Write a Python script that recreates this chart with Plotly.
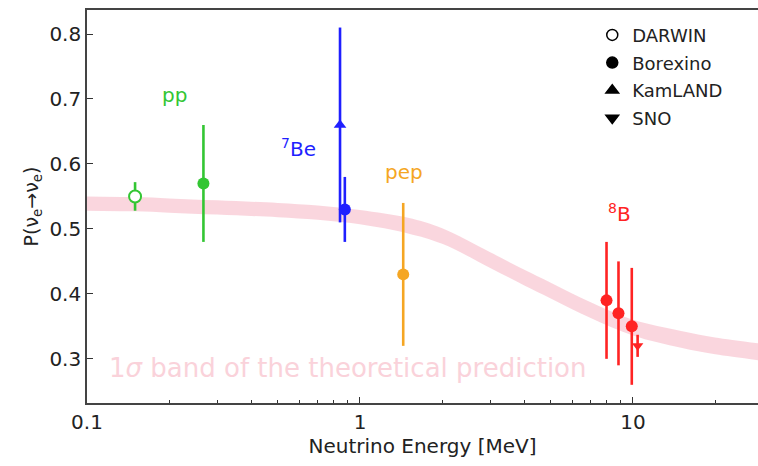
import math
import plotly.graph_objects as go

# Theoretical 1-sigma band (survival probability vs energy)
band_energy = [0.1, 0.15, 0.2, 0.3, 0.5, 0.7, 1.0, 1.5, 2.0, 3.0, 4.0, 5.0, 7.0, 10.0, 15.0, 20.0, 30.0]
band_center = [0.539, 0.538, 0.536, 0.533, 0.529, 0.525, 0.518, 0.505, 0.489, 0.452, 0.425,
               0.405, 0.375, 0.348, 0.330, 0.320, 0.310]
band_half = [0.011, 0.011, 0.011, 0.011, 0.011, 0.011, 0.011, 0.012, 0.012, 0.012, 0.012,
             0.012, 0.012, 0.012, 0.013, 0.013, 0.013]

# Measurements
darwin_E, darwin_P, darwin_err = [0.15], [0.55], [0.022]
pp_E, pp_P, pp_err = [0.267], [0.57], [0.09]
be7_kl_E, be7_kl_P, be7_kl_err = [0.845], [0.66], [0.15]
be7_bx_E, be7_bx_P, be7_bx_err = [0.88], [0.53], [0.05]
pep_E, pep_P, pep_err = [1.44], [0.43], [0.11]
b8_bx_E = [8.0, 8.85, 9.9]
b8_bx_P = [0.39, 0.37, 0.35]
b8_bx_err = [0.09, 0.08, 0.09]
b8_sno_E, b8_sno_P, b8_sno_err = [10.4], [0.32], [0.017]

GREEN = "#33c633"
BLUE = "#1f1fff"
ORANGE = "#f5a623"
RED = "#ff2323"
PINK_FILL = "rgba(245,180,195,0.55)"

fig = go.Figure()

upper = [c + h for c, h in zip(band_center, band_half)]
lower = [c - h for c, h in zip(band_center, band_half)]
fig.add_trace(go.Scatter(x=band_energy, y=upper, mode="lines", line=dict(width=0, shape="spline"),
                         showlegend=False, hoverinfo="skip"))
fig.add_trace(go.Scatter(x=band_energy, y=lower, mode="lines", line=dict(width=0, shape="spline"),
                         fill="tonexty", fillcolor=PINK_FILL, showlegend=False, hoverinfo="skip"))


def points(x, y, err, color, symbol, size=12, open_marker=False):
    fig.add_trace(go.Scatter(
        x=x, y=y, mode="markers", showlegend=False,
        marker=dict(symbol=symbol, size=size,
                    color="white" if open_marker else color,
                    line=dict(color=color, width=2 if open_marker else 0)),
        error_y=dict(type="data", array=err, color=color, thickness=2.6, width=0),
    ))


points(darwin_E, darwin_P, darwin_err, GREEN, "circle", size=12, open_marker=True)
points(pp_E, pp_P, pp_err, GREEN, "circle")
points(be7_kl_E, be7_kl_P, be7_kl_err, BLUE, "triangle-up", size=11)
points(be7_bx_E, be7_bx_P, be7_bx_err, BLUE, "circle")
points(pep_E, pep_P, pep_err, ORANGE, "circle")
points(b8_bx_E, b8_bx_P, b8_bx_err, RED, "circle")
points(b8_sno_E, b8_sno_P, b8_sno_err, RED, "triangle-down", size=10)

# Legend entries (experiment symbols in black)
legend_items = [("DARWIN", "circle-open"), ("Borexino", "circle"),
                ("KamLAND", "triangle-up"), ("SNO", "triangle-down")]
for i, (name, sym) in enumerate(legend_items):
    fig.add_trace(go.Scatter(x=[None], y=[None], mode="markers", name=name, legendgroup=str(i),
                             marker=dict(symbol=sym, size=11, color="black",
                                         line=dict(color="black", width=1.5))))

font = "DejaVu Sans, sans-serif"
# Source labels, positioned in (energy, probability)
labels = [
    (0.209, 0.706, "pp", GREEN),
    (0.593, 0.625, "<sup>7</sup>Be", BLUE),
    (1.45, 0.588, "pep", ORANGE),
    (8.95, 0.525, "<sup>8</sup>B", RED),
]
for x, y, t, c in labels:
    fig.add_annotation(x=math.log10(x), y=y, xref="x", yref="y", text=t, showarrow=False,
                       font=dict(family=font, size=20, color=c))

fig.add_annotation(x=math.log10(0.90), y=0.286, xref="x", yref="y",
                   text="1<i>σ</i> band of the theoretical prediction", showarrow=False,
                   font=dict(family=font, size=26, color="rgba(250,210,218,1)"))

minor_vals = [0.2, 0.3, 0.4, 0.5, 0.6, 0.7, 0.8, 0.9, 2, 3, 4, 5, 6, 7, 8, 9, 20, 30]

fig.update_layout(
    width=758, height=466,
    margin=dict(l=87, r=0, t=10, b=63),
    paper_bgcolor="white", plot_bgcolor="white",
    font=dict(family=font, color="#222"),
    legend=dict(x=0.753, y=0.983, xanchor="left", yanchor="top",
                font=dict(family=font, size=18, color="#222"),
                bgcolor="rgba(0,0,0,0)", traceorder="grouped", tracegroupgap=1.3,
                itemwidth=30),
    xaxis=dict(type="log", range=[-1, 1.458],
               tickvals=[0.1, 1, 10], ticktext=["0.1", "1", "10"],
               ticks="inside", ticklen=6, tickwidth=1.3, tickcolor="#333",
               minor=dict(tickvals=minor_vals, ticks="inside", ticklen=3.5, tickwidth=1.1,
                          tickcolor="#333", showgrid=False),
               showline=True, linecolor="#444", linewidth=1.6, mirror=True,
               showgrid=False, zeroline=False,
               tickfont=dict(family=font, size=20, color="#222"),
               title=dict(text="Neutrino Energy [MeV]", font=dict(family=font, size=20, color="#222"),
                          standoff=6)),
    yaxis=dict(range=[0.232, 0.837], tickvals=[0.3, 0.4, 0.5, 0.6, 0.7, 0.8],
               ticktext=["0.3", "0.4", "0.5", "0.6", "0.7", "0.8"],
               ticks="inside", ticklen=6, tickwidth=1.3, tickcolor="#333",
               showline=True, linecolor="#444", linewidth=1.6, mirror=False,
               showgrid=False, zeroline=False,
               tickfont=dict(family=font, size=20, color="#222"),
               title=dict(text="P(ν<sub>e</sub>→ν<sub>e</sub>)",
                          font=dict(family=font, size=19, color="#222"), standoff=6)),
)

fig.write_html("out.html")
